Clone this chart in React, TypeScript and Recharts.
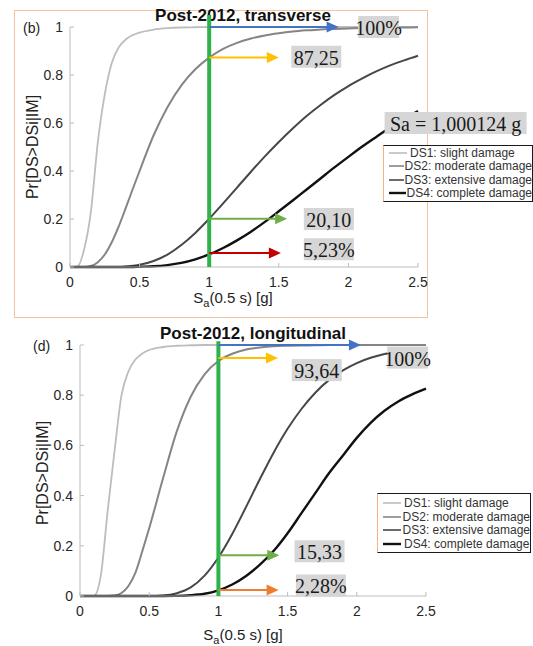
import React from "react";
import { LineChart, Line, XAxis, YAxis, ReferenceLine, ReferenceDot } from "recharts";

// Sa(0.5 s) sample points [g]
const sa = [0, 0.05, 0.1, 0.15, 0.2, 0.25, 0.3, 0.35, 0.4, 0.45, 0.5, 0.6, 0.7, 0.8, 0.9, 1.0, 1.1, 1.2, 1.3, 1.4, 1.5, 1.6, 1.7, 1.8, 1.9, 2.0, 2.1, 2.2, 2.3, 2.4, 2.5];

// (b) Post-2012, transverse
const transDs1 = [0, 0, 0.07, 0.23, 0.52, 0.72, 0.85, 0.915, 0.948, 0.966, 0.977, 0.989, 0.995, 0.998, 0.999, 1, 1, 1, 1, 1, 1, 1, 1, 1, 1, 1, 1, 1, 1, 1, 1];
const transDs2 = [0, 0, 0, 0.004, 0.02, 0.052, 0.103, 0.169, 0.245, 0.324, 0.4, 0.548, 0.666, 0.757, 0.824, 0.8725, 0.909, 0.934, 0.952, 0.965, 0.974, 0.981, 0.986, 0.99, 0.992, 0.994, 0.996, 0.997, 0.998, 0.998, 0.999];
const transDs3 = [0, 0, 0, 0, 0, 0, 0, 0, 0.002, 0.005, 0.009, 0.025, 0.052, 0.092, 0.142, 0.201, 0.265, 0.331, 0.397, 0.461, 0.521, 0.577, 0.629, 0.675, 0.717, 0.754, 0.786, 0.815, 0.84, 0.861, 0.88];
const transDs4 = [0, 0, 0, 0, 0, 0, 0, 0, 0, 0, 0.001, 0.003, 0.008, 0.017, 0.032, 0.0523, 0.079, 0.111, 0.147, 0.188, 0.232, 0.277, 0.323, 0.369, 0.415, 0.459, 0.502, 0.542, 0.581, 0.617, 0.65];

// (d) Post-2012, longitudinal
const longDs1 = [0, 0, 0, 0.08, 0.34, 0.58, 0.8, 0.895, 0.942, 0.966, 0.98, 0.992, 0.997, 0.999, 1, 1, 1, 1, 1, 1, 1, 1, 1, 1, 1, 1, 1, 1, 1, 1, 1];
const longDs2 = [0, 0, 0, 0, 0, 0.002, 0.012, 0.04, 0.092, 0.178, 0.27, 0.469, 0.657, 0.794, 0.883, 0.9364, 0.965, 0.982, 0.99, 0.995, 0.997, 0.998, 0.999, 1, 1, 1, 1, 1, 1, 1, 1];
const longDs3 = [0, 0, 0, 0, 0, 0, 0, 0, 0, 0, 0, 0.002, 0.011, 0.034, 0.081, 0.1533, 0.247, 0.355, 0.466, 0.572, 0.666, 0.745, 0.81, 0.861, 0.899, 0.928, 0.949, 0.964, 0.975, 0.983, 0.988];
const longDs4 = [0, 0, 0, 0, 0, 0, 0, 0, 0, 0, 0, 0, 0.0005, 0.003, 0.009, 0.0228, 0.046, 0.08, 0.125, 0.18, 0.25, 0.33, 0.41, 0.49, 0.56, 0.63, 0.69, 0.738, 0.775, 0.803, 0.826];

const xTicks = [0, 0.5, 1, 1.5, 2, 2.5];
const yTicks = [0, 0.2, 0.4, 0.6, 0.8, 1];
const seriesKeys = ["ds1", "ds2", "ds3", "ds4"];
const seriesNames = ["DS1: slight damage", "DS2: moderate damage", "DS3: extensive damage", "DS4: complete damage"];
const seriesColors = ["#bdbdbd", "#858585", "#474747", "#111111"];
const seriesWidths = [1.8, 2, 2, 2.4];

// arrows from the Sa = 1 g line: level, tip, colour
const saLine = 1;
const transArrowY = [1, 0.8725, 0.201, 0.058];
const transArrowTip = [1.93, 1.5, 1.56, 1.515];
const transArrowColor = ["#4472c4", "#ffc000", "#70ad47", "#c00000"];
const longArrowY = [1, 0.948, 0.162, 0.024];
const longArrowTip = [2.03, 1.43, 1.44, 1.435];
const longArrowColor = ["#4472c4", "#ffc000", "#70ad47", "#ed7d31"];

// grey value boxes: text, left edge (Sa), centre (Pr)
const transLabels = ["100%", "87,25", "Sa = 1,000124 g", "20,10", "5,23%"];
const transLabelX = [2.07, 1.59, 2.26, 1.68, 1.68];
const transLabelY = [1.0, 0.876, 0.6, 0.2, 0.074];
const longLabels = ["100%", "93,64", "15,33", "2,28%"];
const longLabelX = [2.22, 1.53, 1.55, 1.56];
const longLabelY = [0.95, 0.9, 0.178, 0.042];

const rows = (a: number[], b: number[], c: number[], d: number[]) =>
  sa.map((x, i) => ({ x, ds1: a[i], ds2: b[i], ds3: c[i], ds4: d[i] }));

const SANS = '"Liberation Sans", Arial, sans-serif';
const SERIF = '"Liberation Serif", "Times New Roman", serif';
const AXIS = "#bdbdbd";

const YTick = (props: any) => {
  const { x, y, payload } = props;
  return (
    <g>
      <line x1={x + 7} x2={x + 11} y1={y} y2={y} stroke={AXIS} />
      <text x={x} y={y} textAnchor="end" dominantBaseline="central" fontSize={14} fontFamily={SANS} fill="#262626">
        {payload.value}
      </text>
    </g>
  );
};

const XTick = (props: any) => {
  const { x, y, payload } = props;
  return (
    <g>
      <line x1={x} x2={x} y1={y - 9} y2={y - 13} stroke={AXIS} />
      <text x={x} y={y} dy="0.8em" textAnchor="middle" fontSize={14} fontFamily={SANS} fill="#262626">
        {payload.value}
      </text>
    </g>
  );
};

const arrowHead = (color: string) => (p: any) => (
  <polygon points={`${p.cx},${p.cy} ${p.cx - 12},${p.cy - 5.5} ${p.cx - 12},${p.cy + 5.5}`} fill={color} />
);

const valueBox = (text: string) => (p: any) => {
  const w = text.length * 9.2 + 4;
  return (
    <g>
      <rect x={p.cx} y={p.cy - 11} width={w} height={22} fill="#d6d6d6" />
      <text x={p.cx + w / 2} y={p.cy + 1} textAnchor="middle" dominantBaseline="central" fontSize={20} fontFamily={SERIF} fill="#1a1a1a">
        {text}
      </text>
    </g>
  );
};

// axes and fragility curves
function Curves({ data, width, height, margin }: any) {
  return (
    <LineChart width={width} height={height} data={data} margin={margin}>
      <XAxis
        dataKey="x"
        type="number"
        domain={[0, 2.5]}
        ticks={xTicks}
        tickSize={0}
        tickMargin={9}
        height={30}
        stroke={AXIS}
        tick={<XTick />}
        interval={0}
      />
      <YAxis
        type="number"
        domain={[0, 1]}
        ticks={yTicks}
        tickSize={0}
        tickMargin={7}
        width={60}
        stroke={AXIS}
        tick={<YTick />}
        interval={0}
      />
      {seriesKeys.map((k, i) => (
        <Line
          key={k}
          dataKey={k}
          type="monotone"
          stroke={seriesColors[i]}
          strokeWidth={seriesWidths[i]}
          dot={false}
          isAnimationActive={false}
        />
      ))}
    </LineChart>
  );
}

// Sa line, arrows and value boxes, drawn on top of the curves with the same scales
function Marks(props: any) {
  const { data, arrowY, arrowTip, arrowColor, labels, labelX, labelY, width, height, margin, lineTop } = props;
  return (
    <LineChart width={width} height={height} data={data} margin={margin}>
      <XAxis dataKey="x" type="number" domain={[0, 2.5]} hide />
      <YAxis type="number" domain={[0, 1]} hide />
      <Line dataKey="ds1" stroke="none" strokeOpacity={0} dot={false} activeDot={false} isAnimationActive={false} />
      <ReferenceLine
        segment={[{ x: saLine, y: 0 }, { x: saLine, y: lineTop }]}
        stroke="#2fb14c"
        strokeWidth={4}
        ifOverflow="visible"
      />
      {arrowY.map((y: number, i: number) => (
        <ReferenceLine
          key={"s" + i}
          segment={[{ x: saLine, y }, { x: arrowTip[i] - 0.06, y }]}
          stroke={arrowColor[i]}
          strokeWidth={2}
          ifOverflow="visible"
        />
      ))}
      {arrowY.map((y: number, i: number) => (
        <ReferenceDot key={"h" + i} x={arrowTip[i]} y={y} r={1} ifOverflow="visible" shape={arrowHead(arrowColor[i])} />
      ))}
      {labels.map((t: string, i: number) => (
        <ReferenceDot key={"l" + i} x={labelX[i]} y={labelY[i]} r={1} ifOverflow="visible" shape={valueBox(t)} />
      ))}
    </LineChart>
  );
}

function DamageLegend({ left, top, width, rowH, padTop }: any) {
  return (
    <div
      style={{
        position: "absolute",
        left,
        top,
        width,
        background: "#fff",
        border: "1.5px solid #1a1a1a",
        borderLeft: "1.5px solid #f4b183",
        boxSizing: "border-box",
        paddingTop: padTop,
        paddingBottom: 1,
        overflow: "hidden",
      }}
    >
      {seriesNames.map((n, i) => (
        <div key={n} style={{ height: rowH, display: "flex", alignItems: "center", fontFamily: SANS, fontSize: 12, color: "#333", whiteSpace: "nowrap" }}>
          <svg width={20} height={6} style={{ marginLeft: 5, marginRight: 1 }}>
            <line x1={0} x2={18} y1={3} y2={3} stroke={seriesColors[i]} strokeWidth={i === 3 ? 2.4 : 1.6} />
          </svg>
          <span>{n}</span>
        </div>
      ))}
    </div>
  );
}

const abs = (style: any) => ({ position: "absolute" as const, ...style });

export default function App() {
  const transData = rows(transDs1, transDs2, transDs3, transDs4);
  const longData = rows(longDs1, longDs2, longDs3, longDs4);
  const topMargin = { top: 27, right: 115, bottom: 23, left: 10 };
  const topMarksMargin = { top: 27, right: 115, bottom: 53, left: 70 };
  const botMargin = { top: 25, right: 107, bottom: 20, left: 20 };
  const botMarksMargin = { top: 25, right: 107, bottom: 50, left: 80 };
  return (
    <div style={{ position: "absolute", left: 0, top: 0, width: 533, height: 646, background: "#fff", overflow: "hidden" }}>
      <div style={abs({ left: 14, top: 10, width: 414, height: 308, border: "1.5px solid #f6c3a0", boxSizing: "border-box" })} />

      <div style={abs({ left: 0, top: 0 })}>
        <Curves data={transData} width={533} height={320} margin={topMargin} />
      </div>
      <div style={abs({ left: 0, top: 320 })}>
        <Curves data={longData} width={533} height={326} margin={botMargin} />
      </div>

      <div style={abs({ left: 0, width: 486, top: 6, textAlign: "center", fontFamily: SANS, fontWeight: "bold", fontSize: 17, color: "#111" })}>
        Post-2012, transverse
      </div>
      <div style={abs({ left: 0, width: 506, top: 324, textAlign: "center", fontFamily: SANS, fontWeight: "bold", fontSize: 17, color: "#111" })}>
        Post-2012, longitudinal
      </div>
      <div style={abs({ left: 23, top: 20, fontFamily: SANS, fontSize: 14, color: "#222" })}>(b)</div>
      <div style={abs({ left: 33, top: 338, fontFamily: SANS, fontSize: 14, color: "#222" })}>(d)</div>

      <div style={abs({ left: 0, top: 0 })}>
        <Marks
          data={transData}
          arrowY={transArrowY}
          arrowTip={transArrowTip}
          arrowColor={transArrowColor}
          labels={transLabels}
          labelX={transLabelX}
          labelY={transLabelY}
          width={533}
          height={320}
          margin={topMarksMargin}
          lineTop={1.05}
        />
      </div>
      <div style={abs({ left: 0, top: 320 })}>
        <Marks
          data={longData}
          arrowY={longArrowY}
          arrowTip={longArrowTip}
          arrowColor={longArrowColor}
          labels={longLabels}
          labelX={longLabelX}
          labelY={longLabelY}
          width={533}
          height={326}
          margin={botMarksMargin}
          lineTop={1.015}
        />
      </div>

      <div style={abs({ left: 33, top: 147, transform: "translate(-50%, -50%) rotate(-90deg)", whiteSpace: "nowrap", fontFamily: SANS, fontSize: 16, color: "#222" })}>
        Pr[DS&gt;DSi|IM]
      </div>
      <div style={abs({ left: 43, top: 473, transform: "translate(-50%, -50%) rotate(-90deg)", whiteSpace: "nowrap", fontFamily: SANS, fontSize: 16, color: "#222" })}>
        Pr[DS&gt;DSi|IM]
      </div>
      <div style={abs({ left: 233, top: 299, transform: "translate(-50%, -50%)", whiteSpace: "nowrap", fontFamily: SANS, fontSize: 15, color: "#222" })}>
        S<sub style={{ fontSize: 11 }}>a</sub>(0.5 s) [g]
      </div>
      <div style={abs({ left: 243, top: 636, transform: "translate(-50%, -50%)", whiteSpace: "nowrap", fontFamily: SANS, fontSize: 15, color: "#222" })}>
        S<sub style={{ fontSize: 11 }}>a</sub>(0.5 s) [g]
      </div>

      <DamageLegend left={383} top={145} width={150} rowH={13.5} padTop={0} />
      <DamageLegend left={377} top={493} width={154} rowH={13.7} padTop={2} />
    </div>
  );
}
